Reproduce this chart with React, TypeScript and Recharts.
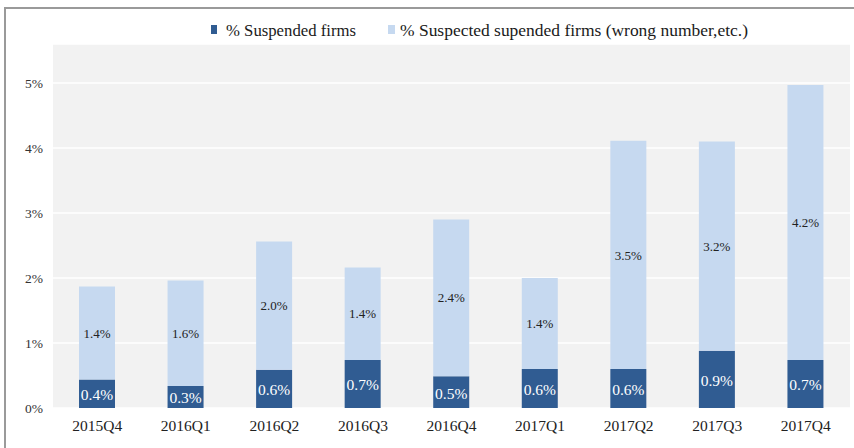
import React from "react";
import { BarChart, Bar, XAxis, YAxis, CartesianGrid, LabelList } from "recharts";

// values in percent
const quarters = ["2015Q4", "2016Q1", "2016Q2", "2016Q3", "2016Q4", "2017Q1", "2017Q2", "2017Q3", "2017Q4"];
const suspended = [0.44, 0.34, 0.59, 0.74, 0.49, 0.6, 0.6, 0.88, 0.74];
const suspected = [1.43, 1.62, 1.97, 1.42, 2.41, 1.4, 3.51, 3.22, 4.23];
const yTicks = [0, 1, 2, 3, 4, 5];
const legendNames = ["% Suspended firms", "% Suspected supended firms (wrong number,etc.)"];

const DARK = "#305c92";
const LIGHT = "#c6d9f0";
const FONT = "'Liberation Serif', 'Times New Roman', serif";

const data = quarters.map((q, i) => ({ q, suspended: suspended[i], suspected: suspected[i] }));

const fmt = (v: any) => `${Number(v).toFixed(1)}%`;

// legend drawn by hand so it sits where the original puts it
function LegendBox() {
	return (
		<svg style={{ position: "absolute", left: 0, top: 0 }} width={854} height={48}>
			<rect x={211} y={25} width={6} height={9} fill={DARK} />
			<text x={226} y={36} fontFamily={FONT} fontSize={17.5} fill="#1a1a1a" textLength={130} lengthAdjust="spacingAndGlyphs">
				{legendNames[0]}
			</text>
			<rect x={388} y={25} width={7} height={9} fill={LIGHT} />
			<text x={400} y={36} fontFamily={FONT} fontSize={17.5} fill="#1a1a1a" textLength={348} lengthAdjust="spacingAndGlyphs">
				{legendNames[1]}
			</text>
		</svg>
	);
}

export default function App() {
	return (
		<div style={{ position: "absolute", left: 0, top: 0, width: 854, height: 448, background: "#fff", overflow: "hidden" }}>
			<div
				style={{
					position: "absolute",
					left: 4,
					top: 7,
					width: 900,
					height: 500,
					borderLeft: "2px solid #9a9a9a",
					borderTop: "2px solid #9a9a9a",
				}}
			/>
			<LegendBox />
			<div style={{ position: "absolute", left: 0, top: 0 }}>
				<BarChart
					width={854}
					height={448}
					data={data}
					margin={{ top: 44, right: 4, left: 0, bottom: 10 }}
					barSize={36}
				>
					<CartesianGrid vertical={false} stroke="#ffffff" strokeWidth={1.5} fill="#f2f2f2" />
					<XAxis
						dataKey="q"
						axisLine={false}
						tickLine={false}
						tickSize={0}
						tickMargin={12}
						height={30}
						tick={{ fontFamily: FONT, fontSize: 15.5, fill: "#222" }}
					/>
					<YAxis
						width={53}
						domain={[0, 5.6]}
						ticks={yTicks}
						axisLine={false}
						tickLine={false}
						tickSize={0}
						tickMargin={10}
						tickFormatter={(v) => `${v}%`}
						tick={{ fontFamily: FONT, fontSize: 13.5, fill: "#333" }}
					/>
					<Bar dataKey="suspended" stackId="a" fill={DARK} isAnimationActive={false}>
						<LabelList
							dataKey="suspended"
							position="center"
							formatter={fmt}
							style={{ fontFamily: FONT, fontSize: 15.5, fill: "#ffffff" }}
							dy={1}
						/>
					</Bar>
					<Bar dataKey="suspected" stackId="a" fill={LIGHT} isAnimationActive={false}>
						<LabelList
							dataKey="suspected"
							position="center"
							formatter={fmt}
							style={{ fontFamily: FONT, fontSize: 13, fill: "#222" }}
						/>
					</Bar>
				</BarChart>
			</div>
		</div>
	);
}
